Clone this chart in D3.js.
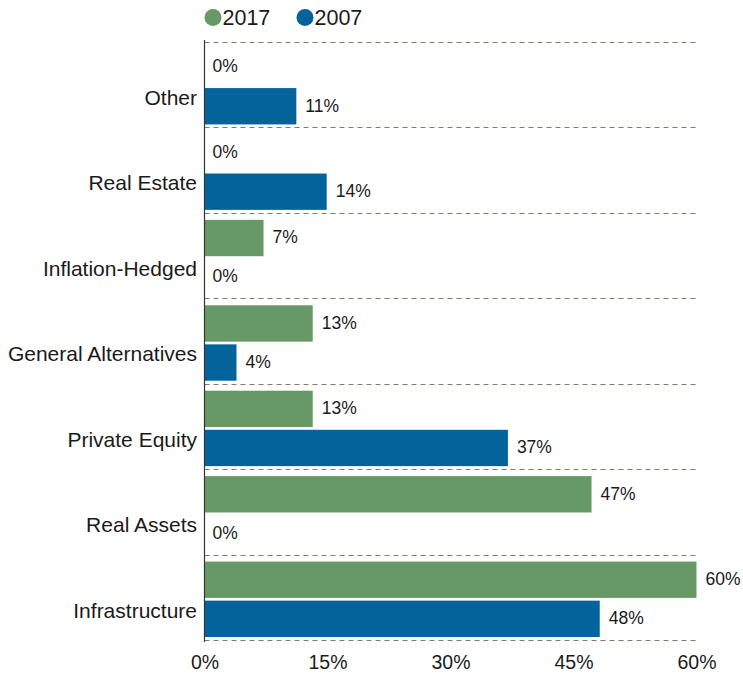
<!DOCTYPE html>
<html>
<head>
<meta charset="utf-8">
<script src="https://cdn.jsdelivr.net/npm/d3@7"></script>
<style>
  body { margin: 0; background: #fff; }
  svg { display: block; font-family: "Liberation Sans", Arial, sans-serif; }
</style>
</head>
<body>
<div id="chart"></div>
<script>
const categories = ["Other", "Real Estate", "Inflation-Hedged", "General Alternatives", "Private Equity", "Real Assets", "Infrastructure"];
const series = ["2017", "2007"];
const values2017 = [0, 0, 7.2, 13.2, 13.2, 47.2, 60];
const values2007 = [11.2, 14.9, 0, 3.9, 37, 0, 48.2];
const labels2017 = ["0%", "0%", "7%", "13%", "13%", "47%", "60%"];
const labels2007 = ["11%", "14%", "0%", "4%", "37%", "0%", "48%"];
const ticks = [0, 15, 30, 45, 60];

const width = 743, height = 681;
const colors = { "2017": "#679966", "2007": "#03639B" };

const svg = d3.select("#chart").append("svg")
  .attr("width", width).attr("height", height);

const x = d3.scaleLinear().domain([0, 60]).range([204.5, 696.5]);
const y = d3.scaleBand().domain(categories).range([42, 640]).padding(0);
const bw = y.bandwidth();
const ySub = d3.scaleBand().domain(series).range([7, bw - 3]).paddingInner(0.07);

const rows = categories.map((c, i) => ({
  cat: c,
  bars: [
    { s: "2017", v: values2017[i], label: labels2017[i] },
    { s: "2007", v: values2007[i], label: labels2007[i] }
  ]
}));

// dashed separators
const seps = categories.map(c => y(c)).concat([y.range()[1]]);
svg.selectAll("line.sep").data(seps).enter().append("line")
  .attr("class", "sep")
  .attr("x1", x(0)).attr("x2", 698)
  .attr("y1", d => Math.round(d) + 0.5).attr("y2", d => Math.round(d) + 0.5)
  .attr("stroke", "#8c7467").attr("stroke-width", 1.2)
  .attr("stroke-dasharray", "5,4");

const g = svg.selectAll("g.row").data(rows).enter().append("g")
  .attr("transform", d => `translate(0,${y(d.cat)})`);

g.selectAll("rect").data(d => d.bars).enter().append("rect")
  .attr("x", x(0))
  .attr("y", d => ySub(d.s))
  .attr("width", d => x(d.v) - x(0))
  .attr("height", ySub.bandwidth())
  .attr("fill", d => colors[d.s]);

g.selectAll("text.val").data(d => d.bars).enter().append("text")
  .attr("class", "val")
  .attr("x", d => x(d.v) + (d.v > 0 ? 9 : 8))
  .attr("y", d => ySub(d.s) + ySub.bandwidth() / 2)
  .attr("dy", "0.3em")
  .attr("font-size", "17.5px")
  .attr("fill", "#1a1a1a")
  .text(d => d.label);

// category labels
svg.selectAll("text.cat").data(categories).enter().append("text")
  .attr("class", "cat")
  .attr("x", 197)
  .attr("y", d => y(d) + bw / 2 + 13)
  .attr("dy", "0.35em")
  .attr("text-anchor", "end")
  .attr("font-size", "21px")
  .attr("fill", "#1a1a1a")
  .text(d => d);

// y axis line
svg.append("line")
  .attr("x1", 204.5).attr("x2", 204.5)
  .attr("y1", 40).attr("y2", 642)
  .attr("stroke", "#333").attr("stroke-width", 1.2);

// x axis tick labels
const xAxis = svg.append("g")
  .attr("transform", "translate(0,642)")
  .call(d3.axisBottom(x).tickValues(ticks).tickFormat(d => d + "%").tickSize(0).tickPadding(13));
xAxis.select(".domain").remove();
xAxis.selectAll("text")
  .attr("font-size", "19.5px")
  .attr("font-family", "Liberation Sans, Arial, sans-serif")
  .attr("fill", "#1a1a1a");

// legend
const legend = svg.append("g");
const legendX = [213, 305];
series.forEach((s, i) => {
  legend.append("circle")
    .attr("cx", legendX[i]).attr("cy", 17.5).attr("r", 8.5)
    .attr("fill", colors[s]);
  legend.append("text")
    .attr("x", legendX[i] + 9.5).attr("y", 17.5)
    .attr("dy", "0.36em")
    .attr("font-size", "21.5px")
    .attr("fill", "#1a1a1a")
    .text(s);
});
</script>
</body>
</html>
